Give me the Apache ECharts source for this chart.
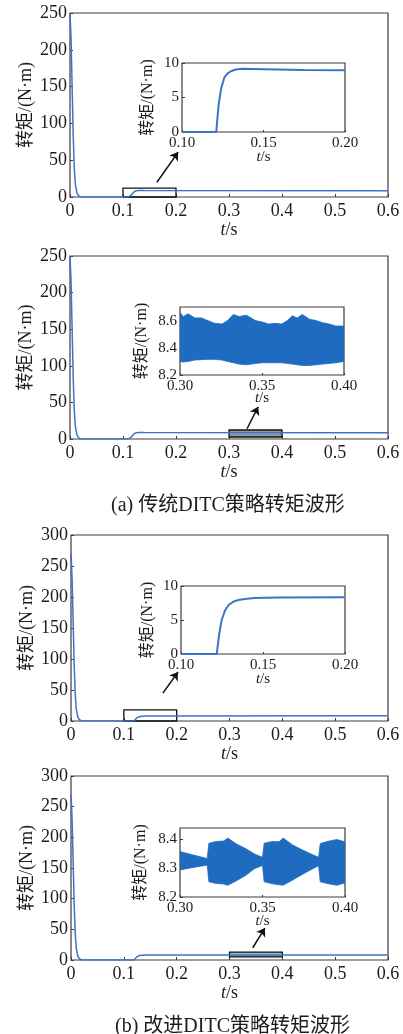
<!DOCTYPE html>
<html><head><meta charset="utf-8">
<script src="https://cdn.jsdelivr.net/npm/echarts@6/dist/echarts.min.js"></script>
<style>html,body{margin:0;padding:0;background:#fff}#c{width:403px;height:1034px}</style>
</head><body><div id="c"></div>
<script>
// ---- data ----
const tMain = [0, 0.002, 0.004, 0.006, 0.008, 0.010, 0.013, 0.016, 0.020, 0.110, 0.113, 0.116, 0.120, 0.125, 0.130, 0.140, 0.600];
const torqueTraditional = [250, 215, 150, 85, 40, 18, 6, 2, 0, 0, 0, 3, 6.5, 8.6, 9.0, 8.8, 8.45];
const torqueImproved = [270, 232, 162, 92, 43, 19, 6, 2, 0, 0, 0, 0, 0.5, 5.5, 7.3, 8.1, 8.32];

const tStart1 = [0.100, 0.121, 0.1225, 0.124, 0.126, 0.128, 0.130, 0.133, 0.137, 0.150, 0.175, 0.200];
const torqueStart1 = [0, 0, 4.0, 6.3, 7.9, 8.5, 8.8, 9.05, 9.15, 9.1, 9.0, 8.95];

const tStart2 = [0.100, 0.1218, 0.1232, 0.1248, 0.1268, 0.129, 0.132, 0.135, 0.139, 0.145, 0.160, 0.200];
const torqueStart2 = [0, 0, 2.8, 5.0, 6.4, 7.2, 7.7, 7.95, 8.1, 8.22, 8.3, 8.35];

const tRipple1 = [0.300, 0.302, 0.305, 0.309, 0.313, 0.317, 0.321, 0.3256, 0.329, 0.3325, 0.336, 0.3405, 0.346, 0.350, 0.354, 0.358, 0.362, 0.3655, 0.3685, 0.3715, 0.3746, 0.379, 0.383, 0.387, 0.391, 0.395, 0.400];
const rippleUpper1 = [8.66, 8.63, 8.65, 8.62, 8.62, 8.60, 8.58, 8.575, 8.60, 8.645, 8.63, 8.64, 8.60, 8.59, 8.575, 8.58, 8.575, 8.60, 8.635, 8.62, 8.645, 8.61, 8.60, 8.585, 8.575, 8.56, 8.56];
const rippleLower1 = [8.30, 8.295, 8.30, 8.31, 8.313, 8.315, 8.315, 8.31, 8.30, 8.29, 8.28, 8.275, 8.285, 8.29, 8.29, 8.29, 8.29, 8.285, 8.28, 8.275, 8.27, 8.27, 8.275, 8.28, 8.285, 8.29, 8.30];

const tRipple2 = [0.300, 0.308, 0.3165, 0.3175, 0.322, 0.3265, 0.329, 0.334, 0.340, 0.345, 0.3500, 0.3510, 0.356, 0.360, 0.3625, 0.368, 0.374, 0.380, 0.3840, 0.3850, 0.390, 0.395, 0.400];
const rippleUpper2 = [8.358, 8.346, 8.334, 8.387, 8.393, 8.395, 8.405, 8.385, 8.368, 8.350, 8.338, 8.387, 8.393, 8.392, 8.405, 8.382, 8.364, 8.348, 8.338, 8.386, 8.394, 8.40, 8.392];
const rippleLower2 = [8.294, 8.303, 8.311, 8.253, 8.247, 8.245, 8.241, 8.256, 8.276, 8.298, 8.310, 8.253, 8.246, 8.243, 8.241, 8.258, 8.278, 8.297, 8.309, 8.253, 8.246, 8.241, 8.249];

// tick labels
const mainXTicks = ['0', '0.1', '0.2', '0.3', '0.4', '0.5', '0.6'];
const startXTicks = ['0.10', '0.15', '0.20'];
const rippleXTicks = ['0.30', '0.35', '0.40'];
const yTicks250 = ['0', '50', '100', '150', '200', '250'];
const yTicks300 = ['0', '50', '100', '150', '200', '250', '300'];
const startYTicks = ['0', '5', '10'];
const ripple1YTicks = ['8.2', '8.4', '8.6'];
const ripple2YTicks = ['8.2', '8.3', '8.4'];

const captionA = '(a) 传统DITC策略转矩波形';
const captionB = '(b) 改进DITC策略转矩波形';
const yName = '转矩/(N·m)';

// ---- styles ----
const FONT = "'Liberation Serif','Noto Sans CJK SC',serif";
const TXT = '#1c1c1c';
const LINE = '#3b74c4';
const BAND = '#1e6bbf';
const BORDER = '#3d3d3d';

const zip = (a, b) => a.map((v, i) => [v, b[i]]);
const zip3 = (a, b, c) => a.map((v, i) => [v, b[i], c[i]]);

const grids = [
  {left: 70, top: 13, width: 318, height: 184},
  {left: 182, top: 63, width: 163, height: 69},
  {left: 70, top: 256, width: 318, height: 183},
  {left: 180, top: 307, width: 164, height: 68},
  {left: 71, top: 535, width: 317, height: 186},
  {left: 181, top: 586, width: 164, height: 68},
  {left: 71, top: 776, width: 317, height: 184},
  {left: 180, top: 828, width: 165, height: 69}
].map(g => Object.assign({show: true, borderColor: BORDER, borderWidth: 1.2, backgroundColor: '#fff'}, g));

const tsName = (size) => ({
  name: '{i|t}/s', nameLocation: 'middle', nameMoveOverlap: false,
  nameTextStyle: {color: TXT, fontFamily: FONT, fontSize: size,
    rich: {i: {fontStyle: 'italic', fontFamily: FONT, fontSize: size, color: TXT}}}
});

function xMain(gi) {
  return Object.assign({
    type: 'value', gridIndex: gi, min: 0, max: 0.6, interval: 0.1,
    nameGap: 24,
    axisLine: {show: false}, splitLine: {show: false},
    axisTick: {inside: true, length: 3, lineStyle: {color: BORDER}},
    axisLabel: {margin: 5, color: TXT, fontFamily: FONT, fontSize: 18,
      formatter: v => mainXTicks[Math.round(v / 0.1)]}
  }, tsName(18));
}
function xInset(gi, min, max, ticks, gap) {
  return Object.assign({
    type: 'value', gridIndex: gi, min: min, max: max, interval: 0.05,
    nameGap: gap,
    axisLine: {show: false}, splitLine: {show: false},
    axisTick: {inside: true, length: 2, lineStyle: {color: BORDER}},
    axisLabel: {margin: 4, color: TXT, fontFamily: FONT, fontSize: 15,
      formatter: v => ticks[Math.round((v - min) / 0.05)]}
  }, tsName(15));
}
function yAxis(gi, min, max, interval, ticks, size, gap, showMax) {
  return {
    type: 'value', gridIndex: gi, min: min, max: max, interval: interval,
    name: yName, nameLocation: 'middle', nameGap: gap, nameMoveOverlap: false,
    nameTextStyle: {color: TXT, fontFamily: FONT, fontSize: size},
    axisLine: {show: false}, splitLine: {show: false},
    axisTick: {inside: true, length: 3, lineStyle: {color: BORDER}},
    axisLabel: {margin: 3, color: TXT, fontFamily: FONT, fontSize: size === 18 ? 18 : 15,
      showMaxLabel: showMax,
      formatter: v => ticks[Math.round((v - min) / interval)]}
  };
}

function mainSeries(gi, data, box, boxFill, arrow) {
  return {
    type: 'line', xAxisIndex: gi, yAxisIndex: gi, data: data,
    showSymbol: false, symbol: 'none', animation: false,
    lineStyle: {color: LINE, width: 1.5},
    markArea: {silent: true, data: [[{coord: box[0]}, {coord: box[1]}]],
      itemStyle: {color: boxFill, borderColor: '#111', borderWidth: 1.3}},
    markLine: {silent: true, symbol: ['none', 'arrow'], symbolSize: 8, animation: false,
      label: {show: false},
      lineStyle: {color: '#111', width: 1.5, type: 'solid'},
      data: [[{coord: arrow[0]}, {coord: arrow[1]}]]}
  };
}
function insetLine(gi, data) {
  return {type: 'line', xAxisIndex: gi, yAxisIndex: gi, data: data,
    showSymbol: false, symbol: 'none', animation: false,
    lineStyle: {color: LINE, width: 2}};
}
function bandSeries(gi, data) {
  return {
    type: 'custom', xAxisIndex: gi, yAxisIndex: gi, data: data,
    encode: {x: 0, y: [1, 2]}, animation: false, clip: true,
    renderItem: function (params, api) {
      if (params.dataIndexInside !== 0) return null;
      const n = params.dataInsideLength;
      const top = [], bot = [];
      for (let i = 0; i < n; i++) {
        top.push(api.coord([api.value(0, i), api.value(1, i)]));
        bot.push(api.coord([api.value(0, i), api.value(2, i)]));
      }
      return {type: 'polygon', shape: {points: top.concat(bot.reverse())},
        style: {fill: BAND, stroke: BAND, lineWidth: 0.8}};
    }
  };
}

const option = {
  backgroundColor: '#fff',
  animation: false,
  title: [
    {text: captionA, left: 106, top: 491, textStyle: {fontFamily: FONT, fontSize: 20, fontWeight: 'normal', color: TXT}},
    {text: captionB, left: 110, top: 1012, textStyle: {fontFamily: FONT, fontSize: 20, fontWeight: 'normal', color: TXT}}
  ],
  grid: grids,
  xAxis: [
    xMain(0), xInset(1, 0.10, 0.20, startXTicks, 18),
    xMain(2), xInset(3, 0.30, 0.40, rippleXTicks, 16),
    xMain(4), xInset(5, 0.10, 0.20, startXTicks, 18),
    xMain(6), xInset(7, 0.30, 0.40, rippleXTicks, 17)
  ],
  yAxis: [
    yAxis(0, 0, 250, 50, yTicks250, 18, 35, true),
    yAxis(1, 0, 10, 5, startYTicks, 16, 26, true),
    yAxis(2, 0, 250, 50, yTicks250, 18, 35, true),
    yAxis(3, 8.2, 8.7, 0.2, ripple1YTicks, 16, 30, false),
    yAxis(4, 0, 300, 50, yTicks300, 18, 35, true),
    yAxis(5, 0, 10, 5, startYTicks, 16, 25, true),
    yAxis(6, 0, 300, 50, yTicks300, 18, 35, true),
    yAxis(7, 8.2, 8.44, 0.1, ripple2YTicks, 16, 31, false)
  ],
  series: [
    mainSeries(0, zip(tMain, torqueTraditional), [[0.1, 0], [0.2, 12]], 'rgba(0,0,0,0)', [[0.164, 20], [0.204, 61]]),
    insetLine(1, zip(tStart1, torqueStart1)),
    mainSeries(2, zip(tMain, torqueTraditional), [[0.3, 2.7], [0.4, 12.3]], '#8f99a6', [[0.334, 14], [0.355, 44]]),
    bandSeries(3, zip3(tRipple1, rippleUpper1, rippleLower1)),
    mainSeries(4, zip(tMain, torqueImproved), [[0.1, 0], [0.2, 18]], 'rgba(0,0,0,0)', [[0.174, 45], [0.2025, 79]]),
    insetLine(5, zip(tStart2, torqueStart2)),
    mainSeries(6, zip(tMain, torqueImproved), [[0.3, 5], [0.4, 13]], '#a6b6cb', [[0.344, 20], [0.367, 52]]),
    bandSeries(7, zip3(tRipple2, rippleUpper2, rippleLower2))
  ]
};

const chart = echarts.init(document.getElementById('c'), null, {renderer: 'canvas'});
chart.setOption(option);
</script>
</body></html>
